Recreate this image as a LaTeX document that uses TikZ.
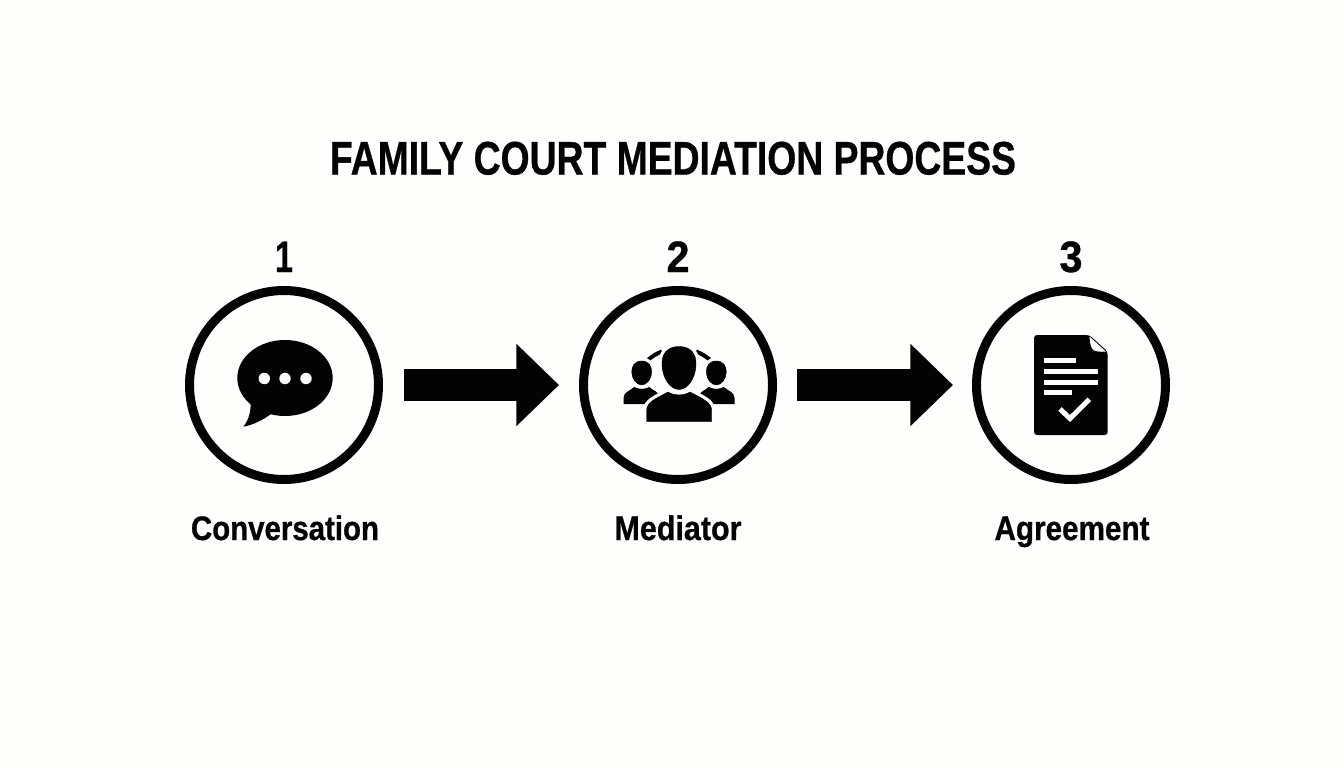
\documentclass[tikz,border=0pt]{standalone}
\usepackage{fontspec}
\usepackage{graphicx}
\setmainfont{Liberation Sans}[BoldFeatures={FakeBold=0.8}]
\usetikzlibrary{arrows.meta}
\definecolor{ink}{HTML}{030303}
\definecolor{paper}{HTML}{FEFEFC}
\newcommand{\fitw}[2]{\resizebox{#1}{\height}{#2}}
\tikzset{
  x=1pt,y=-1pt,
  stepring/.style={circle,draw=ink,line width=9pt,minimum size=189pt,inner sep=0pt,fill=paper},
  blockarrow/.style={draw=ink,line width=32pt,-{Triangle[length=42.6pt,width=79.7pt]},shorten <=21pt,shorten >=20pt},
  titletext/.style={anchor=base,font=\bfseries\fontsize{47}{47}\selectfont,text=ink,inner sep=0pt},
  numtext/.style={anchor=base,font=\bfseries\fontsize{44}{44}\selectfont,text=ink,inner sep=0pt},
  labeltext/.style={anchor=base,font=\bfseries\fontsize{34}{34}\selectfont,text=ink,inner sep=0pt},
  halo/.style={fill=ink,preaction={draw=paper,line width=7pt}},
  hole/.style={fill=paper,draw=none},
}
\begin{document}
\begin{tikzpicture}
\useasboundingbox[fill=paper] (0,0) rectangle (1344,768);
\node[titletext] (title) at (673,174.5) {\fitw{686pt}{FAMILY COURT MEDIATION PROCESS}};
\node[stepring] (c1) at (284,385) {};
\node[stepring] (c2) at (678,385) {};
\node[stepring] (c3) at (1071,385) {};
\draw[blockarrow] (c1) -- (c2);
\draw[blockarrow,shorten <=20pt,shorten >=19pt] (c2) -- (c3);
\node[numtext] (n1) at (284,272) {\fitw{18pt}{1}};
\node[numtext] (n2) at (678,272) {\fitw{23pt}{2}};
\node[numtext] (n3) at (1071,272) {\fitw{23pt}{3}};
\node[labeltext] (l1) at (285,540) {\fitw{188pt}{Conversation}};
\node[labeltext] (l2) at (678,540) {\fitw{127pt}{Mediator}};
\node[labeltext] (l3) at (1072,540) {\fitw{155pt}{Agreement}};
% speech bubble
\fill[ink] (285,378) ellipse [x radius=47.7,y radius=38];
\fill[ink] (250.5,403) .. controls (251,413) and (248,421) .. (243.3,426.7)
  .. controls (253,425) and (263,420) .. (271,414) -- cycle;
\foreach \px in {264.3,285,306} \fill[hole] (\px,378.5) circle [radius=5.7];
% mediator: arc
\draw[ink,line width=4pt] (679,395.7) ++(-111:47.4) arc [start angle=-111,end angle=-131,radius=47.4];
\draw[ink,line width=4pt] (679,395.7) ++(-69:47.4) arc [start angle=-69,end angle=-49,radius=47.4];
% side persons
\foreach \px in {641.7,716.3}{
  \draw[halo] (\px,361) .. controls (\px+7,361) and (\px+10,366) .. (\px+10,372)
    .. controls (\px+10,379) and (\px+5,385) .. (\px,385)
    .. controls (\px-5,385) and (\px-10,379) .. (\px-10,372)
    .. controls (\px-10,366) and (\px-7,361) .. (\px,361) -- cycle;
  \fill[ink] (\px-18.2,404) -- (\px-18.2,398) .. controls (\px-18,392) and (\px-12,391) .. (\px-7.5,387)
    .. controls (\px-3,389.5) and (\px+3,389.5) .. (\px+7.5,387)
    .. controls (\px+12,391) and (\px+18,392) .. (\px+18.2,398) -- (\px+18.2,404) -- cycle;
}
% central person
\draw[halo] (646.7,421.7) -- (646.7,410) .. controls (647,402) and (655,399) .. (668,392)
  .. controls (675,396) and (683,396) .. (690,392)
  .. controls (703,399) and (711,402) .. (711.7,410) -- (711.7,421.7) -- cycle;
\draw[halo] (679,346.5) .. controls (691,346.5) and (696.5,354) .. (696,365)
  .. controls (695.5,378) and (688,389.5) .. (679,389.5)
  .. controls (670,389.5) and (662.5,378) .. (662,365)
  .. controls (661.5,354) and (667,346.5) .. (679,346.5) -- cycle;
% document
\fill[ink,rounded corners=3pt] (1034,335) -- (1089.3,335) -- (1107.7,351.7) -- (1107.7,435) -- (1034,435) -- cycle;
\fill[hole] (1089.5,336.5) -- (1106,351.7) .. controls (1099,352) and (1094,351.5) .. (1092.5,349) .. controls (1090.5,346) and (1089.8,342) .. (1089.5,336.5) -- cycle;
\fill[hole] (1044.3,357.7) rectangle (1076,362.7);
\fill[hole] (1044.3,368.7) rectangle (1098.3,373.7);
\fill[hole] (1044.3,379.7) rectangle (1098.3,384.7);
\fill[hole] (1044.3,390.3) rectangle (1071.7,395.3);
\draw[paper,line width=5pt] (1060,409) -- (1070,418.5) -- (1089.3,399.3);
\end{tikzpicture}
\end{document}
